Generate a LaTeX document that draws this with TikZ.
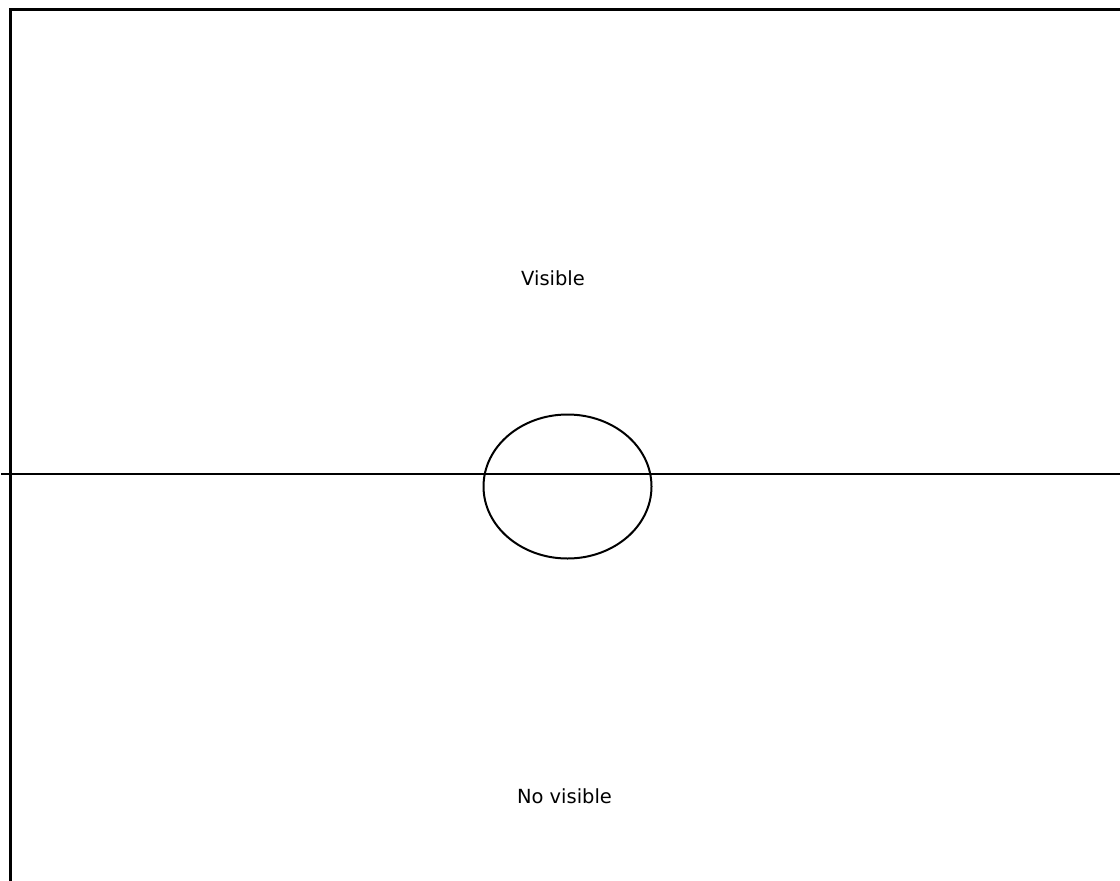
\documentclass[tikz,border=0pt]{standalone}
\usepackage{fontspec}
\setmainfont{DejaVu Sans}
\begin{document}
\begin{tikzpicture}[x=0.75pt, y=-0.75pt]
    \useasboundingbox (0,0) rectangle (1120,881);
    \tikzset{label text/.style={font=\fontsize{14.6}{17}\selectfont, anchor=base, inner sep=0pt}}

    \coordinate (TL) at (10.5,10);
    \coordinate (TR) at (1120,10);
    \coordinate (BL) at (10.5,881);
    \draw[line width=2.25pt] (TR) -- (TL) -- (BL);

    \coordinate (H1) at (1,474);
    \coordinate (H2) at (1120,474);
    \draw[line width=1.5pt] (H1) -- (H2);

    \coordinate (C) at (567.5,486.5);
    \draw[line width=1.5pt] (C) ellipse (84 and 72);

    \node[label text] (vis) at (553,285) {Visible};
    \node[label text] (novis) at (564.5,803) {No visible};
  \end{tikzpicture}
\end{document}
